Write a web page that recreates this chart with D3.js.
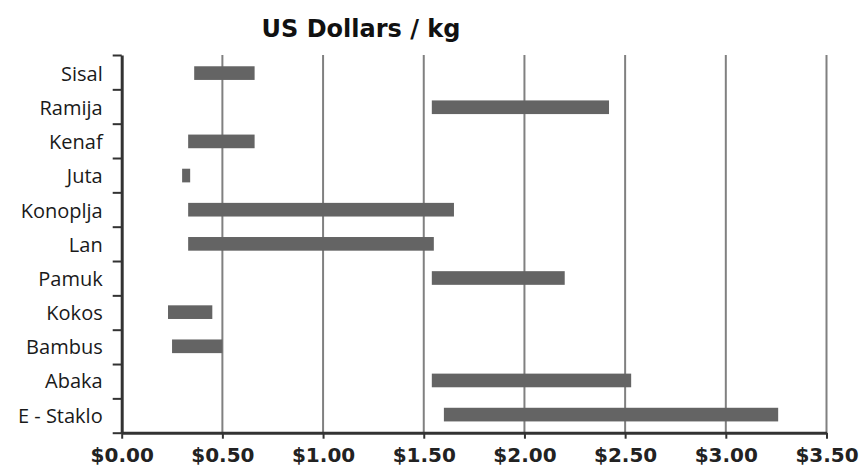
<!DOCTYPE html>
<html>
<head>
<meta charset="utf-8">
<script src="https://cdn.jsdelivr.net/npm/d3@7"></script>
<style>
  body { margin: 0; background: #fff; }
  svg { display: block; }
</style>
</head>
<body>
<svg></svg>
<script>
const w = 859
const h = 468

// fibres, top to bottom, with price range (US$/kg)
const fibres = ['Sisal', 'Ramija', 'Kenaf', 'Juta', 'Konoplja', 'Lan', 'Pamuk', 'Kokos', 'Bambus', 'Abaka', 'E - Staklo']
const priceMin = [0.36, 1.54, 0.33, 0.30, 0.33, 0.33, 1.54, 0.23, 0.25, 1.54, 1.60]
const priceMax = [0.66, 2.42, 0.66, 0.34, 1.65, 1.55, 2.20, 0.45, 0.50, 2.53, 3.26]
const xTicks = [0, 0.5, 1, 1.5, 2, 2.5, 3, 3.5]

const pLeft = 121.7
const pRight = 826.5
const pTop = 55
const pBottom = 432.7

const svg = d3.select('svg').attr('width', w).attr('height', h)

const x = d3.scaleLinear().domain([0, 3.5]).range([pLeft, pRight])
const y = d3.scaleBand().domain(fibres).range([pTop, pBottom]).paddingInner(0.6).paddingOuter(0.33)
const yEdge = d3.scaleLinear().domain([0, fibres.length]).range([pTop, pBottom])

// vertical gridlines
svg.append('g')
  .selectAll('line')
  .data(xTicks.slice(1))
  .enter()
  .append('line')
  .attr('x1', d => x(d))
  .attr('x2', d => x(d))
  .attr('y1', pTop)
  .attr('y2', pBottom)
  .attr('stroke', '#808080')
  .attr('stroke-width', 2)

// bars
svg.append('g')
  .selectAll('rect')
  .data(fibres)
  .enter()
  .append('rect')
  .attr('x', (d, i) => x(priceMin[i]))
  .attr('width', (d, i) => x(priceMax[i]) - x(priceMin[i]))
  .attr('y', d => y(d))
  .attr('height', y.bandwidth())
  .attr('fill', '#646464')

// x axis
const xAxis = svg.append('g')
  .attr('transform', `translate(0, ${pBottom})`)
  .call(d3.axisBottom(x).tickValues(xTicks).tickFormat(d3.format('$.2f')).tickSize(6).tickPadding(9.5).tickSizeOuter(0))
xAxis.select('.domain').attr('stroke', '#333').attr('stroke-width', 3)
xAxis.selectAll('.tick line').attr('stroke', '#333').attr('stroke-width', 2)
xAxis.selectAll('text')
  .attr('fill', '#222')
  .style('font-family', 'DejaVu Sans')
  .style('font-weight', 'bold')
  .style('font-size', '20px')

// y axis: ticks between categories
const yAxis = svg.append('g')
  .attr('transform', `translate(${pLeft}, 0)`)
  .call(d3.axisLeft(yEdge).ticks(fibres.length).tickFormat('').tickSize(9).tickSizeOuter(0))
yAxis.select('.domain').attr('stroke', '#333').attr('stroke-width', 3)
yAxis.selectAll('.tick line').attr('stroke', '#333').attr('stroke-width', 2)

// category labels
const labels = svg.append('g')
  .attr('transform', `translate(${pLeft}, 1.5)`)
  .call(d3.axisLeft(y).tickSize(0).tickPadding(19))
labels.select('.domain').remove()
labels.selectAll('text')
  .attr('fill', '#1a1a1a')
  .style('font-family', 'Open Sans')
  .style('font-size', '20px')

// title
svg.append('text')
  .attr('x', 361)
  .attr('y', 37)
  .attr('text-anchor', 'middle')
  .attr('fill', '#111')
  .style('font-family', 'DejaVu Sans')
  .style('font-weight', 'bold')
  .style('font-size', '24px')
  .text('US Dollars / kg')
</script>
</body>
</html>
